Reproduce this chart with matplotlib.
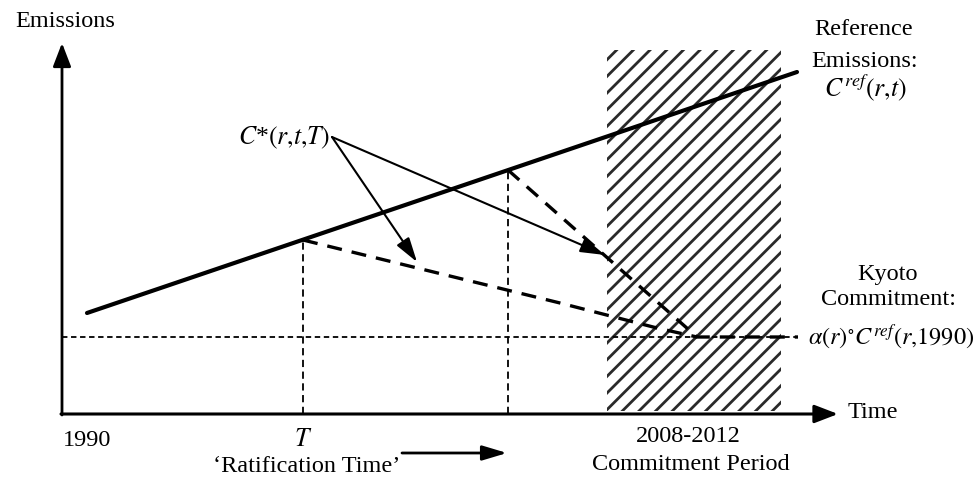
import matplotlib.pyplot as plt
from matplotlib.patches import Rectangle

plt.rcParams['font.family'] = ['Liberation Serif', 'DejaVu Serif']
plt.rcParams['mathtext.fontset'] = 'stix'
plt.rcParams['hatch.linewidth'] = 2.0

# ---- schematic data (arbitrary units: time -> x, emissions -> y) ----
ref_t = [2.5, 73.5]            # reference emissions line
ref_e = [10.1, 34.2]
ratify_t = [24.1, 44.6]        # two ratification times T
ratify_e = [17.4, 24.4]        # C_ref at those times
path1_t = [24.1, 49.8, 59.5, 63.5]     # C*(r,t,T) for early T
path1_e = [17.4, 11.1, 8.6, 7.7]
path2_t = [44.6, 63.5, 73.6]           # C*(r,t,T) for late T
path2_e = [24.4, 7.7, 7.7]
kyoto_t = [0, 73.6]
kyoto_e = [7.7, 7.7]
commit_t = [54.5, 71.9]        # 2008-2012 commitment period
commit_e = [0.3, 36.4]
cstar_from = (27.0, 27.7)
cstar_to = [(35.5, 15.2), (54.3, 15.9)]
axis_x_end = 77.6
axis_y_end = 37.1

fig = plt.figure(figsize=(9.8, 4.78), dpi=100)
ax = fig.add_axes([0, 0, 1, 1])
ax.set_xlim(-6.2, 91.8)
ax.set_ylim(-6.4, 41.4)
ax.axis('off')

FS = 17.5

# commitment period hatch
ax.add_patch(Rectangle((commit_t[0], commit_e[0]), commit_t[1] - commit_t[0],
                       commit_e[1] - commit_e[0], facecolor='none',
                       edgecolor='#2a2a2a', hatch='//', linewidth=0, zorder=1))

# axes arrows
ax.annotate('', xy=(axis_x_end, 0), xytext=(-0.1, 0),
            arrowprops=dict(arrowstyle='-|>,head_length=1.3,head_width=0.5',
                            lw=2.2, color='k', shrinkA=0, shrinkB=0, mutation_scale=11))
ax.annotate('', xy=(0, axis_y_end), xytext=(0, -0.1),
            arrowprops=dict(arrowstyle='-|>,head_length=1.3,head_width=0.5',
                            lw=2.0, color='k', shrinkA=0, shrinkB=0, mutation_scale=11))

# reference emissions
ax.plot(ref_t, ref_e, color='k', lw=3.0, solid_capstyle='round', zorder=3)

# kyoto level
ax.plot(kyoto_t, kyoto_e, color='k', lw=1.3, dashes=(3, 2), zorder=2)

# vertical dashed at ratification times
for t, e in zip(ratify_t, ratify_e):
    ax.plot([t, t], [0, e], color='k', lw=1.3, dashes=(4, 2.5), zorder=2)

# optimal paths
ax.plot(path1_t, path1_e, color='k', lw=2.4, dashes=(4.5, 3), zorder=3)
ax.plot(path2_t, path2_e, color='k', lw=2.4, dashes=(4.5, 3), zorder=3)

# C* arrows
for end in cstar_to:
    ax.annotate('', xy=end, xytext=cstar_from,
                arrowprops=dict(arrowstyle='-|>,head_length=1.5,head_width=0.45',
                                lw=1.5, color='k', shrinkA=0, shrinkB=0, mutation_scale=10))

# ratification arrow
ax.annotate('', xy=(44.5, -3.9), xytext=(34.0, -3.9),
            arrowprops=dict(arrowstyle='-|>,head_length=1.5,head_width=0.45',
                            lw=2.0, color='k', shrinkA=0, shrinkB=0, mutation_scale=10))

# texts
ax.text(0.35, 39.2, 'Emissions', fontsize=FS, ha='center', va='center')
ax.text(78.6, 0.1, 'Time', fontsize=FS, ha='left', va='center')
ax.text(22.2, 27.6, r'$C$*$(r{,}t{,}T)$', fontsize=FS + 1, ha='center', va='center')
ax.text(80.2, 38.4, 'Reference', fontsize=FS, ha='center', va='center')
ax.text(80.3, 35.2, 'Emissions:', fontsize=FS, ha='center', va='center')
ax.text(80.3, 32.6, r'$C^{ref}(r{,}t)$', fontsize=FS + 1, ha='center', va='center')
ax.text(82.6, 13.9, 'Kyoto', fontsize=FS, ha='center', va='center')
ax.text(82.6, 11.4, 'Commitment:', fontsize=FS, ha='center', va='center')
ax.text(74.6, 7.7, r'$\alpha(r)^{\circ}C^{ref}(r{,}1990)$', fontsize=FS, ha='left', va='center')
ax.text(2.5, -2.6, '1990', fontsize=FS, ha='center', va='center')
ax.text(24.1, -2.6, r'$T$', fontsize=FS + 1, ha='center', va='center')
ax.text(24.5, -5.3, '\u2018Ratification Time\u2019', fontsize=FS, ha='center', va='center')
ax.text(62.6, -2.3, '2008-2012', fontsize=FS, ha='center', va='center')
ax.text(62.9, -5.1, 'Commitment Period', fontsize=FS, ha='center', va='center')

fig.savefig('out.png', dpi=100)
